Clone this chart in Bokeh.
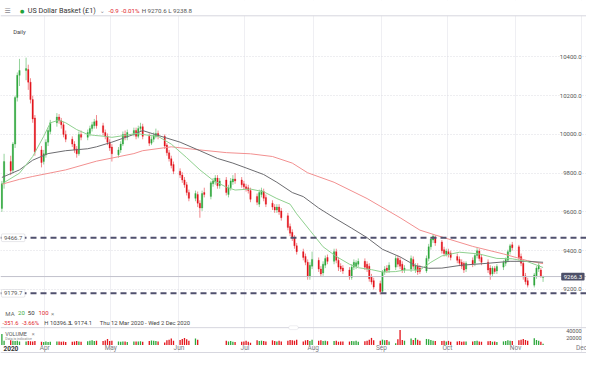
import pandas as pd
from bokeh.plotting import figure
from bokeh.models import (ColumnDataSource, Range1d, Span, Label, LabelSet, Grid,
                          FixedTicker, BoxAnnotation)
from bokeh.core.properties import value
from bokeh.embed import file_html
from bokeh.resources import INLINE

# ---------------- data ----------------
instrument = "US Dollar Basket (£1)"
timeframe = "Daily"
first_day = "2020-03-12"
last_day = "2020-11-13"
range_text = "Thu 12 Mar 2020 - Wed 2 Dec 2020"

opens = [9617.9, 9745, 9860, 9815, 9950, 10190, 10305, 10330, 10335, 10270,
         10180, 10085, 9920, 9860, 9895, 9960, 10015, 10060, 10090, 10070,
         10050, 10000, 9975, 9950, 9925, 9900, 10000, 9985, 10005, 10030,
         10045, 10070, 10045, 10010, 9990, 9960, 9935, 9895, 9920, 9950,
         10000, 9985, 10005, 10020, 9990, 10030, 10040, 9990, 9955, 9975,
         9990, 10005, 9990, 9945, 9905, 9875, 9845, 9810, 9790, 9765,
         9740, 9700, 9670, 9690, 9645, 9620, 9700, 9680, 9745, 9755,
         9775, 9735, 9765, 9690, 9725, 9755, 9770, 9765, 9745, 9730,
         9725, 9710, 9680, 9640, 9690, 9705, 9675, 9645, 9625, 9610,
         9625, 9605, 9580, 9525, 9495, 9465, 9425, 9395, 9370, 9340,
         9265, 9320, 9350, 9305, 9285, 9325, 9365, 9345, 9395, 9350,
         9320, 9310, 9300, 9262, 9315, 9318, 9330, 9345, 9330, 9320,
         9265, 9245, 9230, 9190, 9290, 9310, 9300, 9315, 9360, 9350,
         9330, 9300, 9305, 9355, 9300, 9320, 9310, 9295, 9360, 9420,
         9455, 9470, 9445, 9405, 9380, 9395, 9388, 9370, 9355, 9340,
         9335, 9305, 9350, 9335, 9375, 9398, 9365, 9340, 9310, 9280,
         9308, 9295, 9315, 9335, 9350, 9395, 9430, 9420, 9370, 9335,
         9270, 9245, 9222, 9270, 9305, 9300, 9262]
highs = [9760, 9900, 9890, 9960, 10200, 10320, 10390, 10396.3, 10360, 10290,
         10200, 10100, 9940, 9920, 9975, 10035, 10075, 10110, 10105, 10085,
         10065, 10020, 9990, 9965, 9940, 10015, 10020, 10025, 10045, 10065,
         10080, 10100, 10060, 10025, 10005, 9975, 9950, 9935, 9965, 10015,
         10020, 10025, 10035, 10035, 10045, 10060, 10055, 10005, 9990, 10010,
         10030, 10020, 10000, 9955, 9920, 9890, 9860, 9825, 9805, 9780,
         9755, 9715, 9710, 9705, 9660, 9710, 9725, 9760, 9775, 9790,
         9790, 9775, 9780, 9740, 9775, 9790, 9800, 9780, 9760, 9745,
         9740, 9725, 9695, 9715, 9725, 9720, 9690, 9660, 9640, 9640,
         9640, 9620, 9595, 9540, 9510, 9480, 9440, 9410, 9385, 9355,
         9340, 9395, 9365, 9320, 9345, 9375, 9380, 9410, 9410, 9365,
         9335, 9325, 9315, 9330, 9355, 9350, 9360, 9360, 9345, 9335,
         9280, 9260, 9245, 9300, 9320, 9325, 9340, 9375, 9375, 9365,
         9345, 9325, 9375, 9370, 9335, 9335, 9325, 9375, 9435, 9470,
         9486, 9480, 9455, 9420, 9410, 9410, 9400, 9385, 9370, 9355,
         9345, 9345, 9365, 9385, 9415, 9410, 9380, 9355, 9325, 9320,
         9320, 9330, 9350, 9365, 9405, 9435, 9445, 9430, 9385, 9350,
         9285, 9260, 9285, 9320, 9340, 9310, 9270.6]
lows = [9600, 9720, 9790, 9800, 9930, 10170, 10250, 10280, 10230, 10160,
        10060, 9890, 9830, 9845, 9880, 9940, 10000, 10040, 10055, 10030,
        9985, 9960, 9935, 9905, 9880, 9890, 9970, 9970, 9990, 10015,
        10030, 10030, 9995, 9975, 9945, 9915, 9860, 9880, 9905, 9940,
        9970, 9970, 9990, 9975, 9980, 10015, 9975, 9940, 9945, 9960,
        9980, 9975, 9925, 9890, 9860, 9825, 9795, 9775, 9750, 9725,
        9685, 9655, 9655, 9625, 9570, 9605, 9675, 9665, 9730, 9740,
        9720, 9720, 9685, 9675, 9710, 9740, 9745, 9725, 9715, 9705,
        9695, 9650, 9635, 9625, 9675, 9655, 9625, 9610, 9595, 9595,
        9585, 9555, 9505, 9475, 9450, 9410, 9380, 9350, 9325, 9250,
        9250, 9305, 9290, 9265, 9270, 9310, 9330, 9330, 9335, 9295,
        9290, 9280, 9250, 9250, 9300, 9305, 9315, 9300, 9290, 9240,
        9225, 9200, 9174.1, 9180, 9275, 9285, 9285, 9300, 9315, 9305,
        9285, 9285, 9290, 9305, 9285, 9275, 9280, 9285, 9345, 9405,
        9440, 9425, 9385, 9370, 9370, 9365, 9350, 9335, 9320, 9305,
        9285, 9290, 9315, 9320, 9360, 9345, 9325, 9285, 9250, 9265,
        9280, 9280, 9300, 9320, 9340, 9380, 9400, 9350, 9320, 9250,
        9225, 9210, 9210, 9255, 9290, 9260, 9238.8]
closes = [9745, 9860, 9812, 9950, 10190, 10305, 10330, 10340, 10270, 10180,
          10080, 9910, 9855, 9900, 9960, 10020, 10060, 10090, 10070, 10050,
          10000, 9975, 9950, 9920, 9900, 10000, 9985, 10010, 10030, 10050,
          10065, 10045, 10010, 9990, 9960, 9930, 9900, 9920, 9950, 10000,
          9985, 10010, 10020, 9990, 10030, 10040, 9990, 9955, 9975, 9995,
          10005, 9990, 9940, 9905, 9875, 9840, 9810, 9790, 9765, 9740,
          9700, 9670, 9695, 9645, 9620, 9695, 9690, 9750, 9760, 9775,
          9735, 9760, 9700, 9725, 9760, 9770, 9760, 9740, 9730, 9720,
          9710, 9665, 9650, 9700, 9710, 9670, 9640, 9625, 9610, 9625,
          9600, 9570, 9520, 9490, 9465, 9425, 9395, 9365, 9340, 9265,
          9325, 9355, 9305, 9280, 9330, 9360, 9345, 9395, 9350, 9315,
          9305, 9295, 9265, 9315, 9340, 9338, 9345, 9315, 9305, 9255,
          9238, 9212, 9188, 9290, 9305, 9298, 9325, 9360, 9330, 9320,
          9300, 9310, 9360, 9320, 9322, 9290, 9292, 9360, 9420, 9460,
          9475, 9440, 9400, 9385, 9398, 9380, 9365, 9350, 9335, 9320,
          9300, 9335, 9330, 9375, 9400, 9360, 9340, 9300, 9278, 9310,
          9292, 9318, 9340, 9355, 9395, 9425, 9415, 9365, 9335, 9265,
          9240, 9222, 9275, 9310, 9325, 9267.2, 9266.3]
volumes = [31000, 12000,
           13000, 12000, 11000, 12000, 10000,
           10000, 11000, 10500, 9500, 11000,
           9000, 8000, 9500, 8500, 9000,
           9500, 10000, 9000, 9500, 8500,
           9000, 10000, 11000, 9500, 9000,
           10500, 12000, 13500, 11000, 12000,
           11000, 12500, 17000, 11000, 12000,
           10000, 9000, 10000, 9500, 8500,
           9500, 10000, 9500, 10500, 9000,
           11000, 12500, 12000, 11000, 10000,
           7000, 13000, 15000, 18000, 12000,
           14000, 17000, 20000, 16000, 12000,
           18000, 15000, 0, 0, 0,
           0, 0, 0, 0, 0,
           12000, 10000, 11000, 9000, 8000,
           9000, 10000, 12000, 9000, 6000,
           13000, 11000, 12000, 11000, 10000,
           13000, 11000, 10000, 12000, 10000,
           12000, 14000, 13000, 12000, 15000,
           10000, 13000, 14000, 11000, 15000,
           12000, 13000, 11000, 12000, 10500,
           11000, 12000, 9000, 10000, 9500,
           9500, 11000, 10500, 12000, 9000,
           10500, 12000, 15000, 20000, 13000,
           12000, 15000, 13000, 14000, 10000,
           5000, 16000, 43000, 14000, 12000,
           18000, 14000, 20000, 15000, 12000,
           17000, 16000, 14000, 12000, 11000,
           11000, 12000, 10000, 11500, 9000,
           10000, 11000, 9000, 10000, 9500,
           9500, 11000, 12000, 10000, 9000,
           10500, 11000, 9000, 9500, 8500,
           10000, 11000, 13000, 12000, 11000,
           13000, 15000, 17000, 14000, 12000,
           19000, 14000, 12000, 9000, 3000]

ma20_idx = [0, 6, 10, 13, 16, 18, 21, 24, 27, 30, 33, 36, 40, 43, 47, 51, 55, 60, 64, 68,
            72, 76, 81, 85, 89, 93, 96, 100, 104, 108, 112, 116, 120, 123, 127, 131, 136,
            139, 142, 148, 155, 161, 166, 171, 176]
ma20_val = [9745, 9800, 9886, 9990, 10060, 10074, 10060, 10025, 10000, 9995, 9990, 9985,
            9995, 10005, 9995, 9990, 9950, 9880, 9817, 9763, 9728, 9713, 9718, 9704, 9669,
            9640, 9590, 9505, 9420, 9370, 9330, 9312, 9302, 9290, 9292, 9300, 9300, 9340,
            9373, 9392, 9383, 9360, 9358, 9343, 9313]
ma50_idx = [0, 6, 10, 15, 21, 27, 31, 36, 42, 46, 51, 57, 64, 70, 75, 79, 85, 89, 94, 97,
            102, 107, 113, 118, 123, 129, 134, 138, 142, 149, 157, 165, 171, 176]
ma50_val = [9778, 9817, 9867, 9901, 9916, 9926, 9936, 9960, 10000, 10020, 9995, 9960, 9916,
            9876, 9852, 9827, 9793, 9753, 9700, 9679, 9620, 9570, 9516, 9467, 9407, 9368,
            9323, 9309, 9310, 9325, 9335, 9345, 9345, 9340]
ma100_idx = [0, 6, 10, 21, 31, 42, 46, 55, 64, 72, 81, 87, 94, 99, 107, 118, 129, 136, 141,
             152, 162, 171, 176]
ma100_val = [9743, 9768, 9783, 9817, 9862, 9901, 9916, 9936, 9920, 9906, 9900, 9886, 9852,
             9802, 9753, 9669, 9570, 9506, 9481, 9422, 9383, 9348, 9333]

level_lines = [9466.7, 9179.7]
price_ticks = [9200, 9400, 9600, 9800, 10000, 10200, 10400]
price_tick_labels = ["9200.0", "9400.0", "9600.0", "9800.0", "10000.0", "10200.0", "10400.0"]
volume_ticks = [20000, 40000]
volume_tick_labels = ["20000", "40000"]
month_starts = ["2020-04-01", "2020-05-01", "2020-06-01", "2020-07-01", "2020-08-01",
                "2020-09-01", "2020-10-01", "2020-11-01", "2020-12-01"]
month_labels = ["Apr", "May", "Jun", "Jul", "Aug", "Sep", "Oct", "Nov", "Dec"]
year_label = "2020"
ma_periods = ["20", "50", "100"]

# ---------------- layout helpers ----------------
W, H = 586, 353
REF_W, REF_H = 602, 369
DAY_PX = 2.26
ORIGIN = pd.Timestamp("2020-04-01") - pd.Timedelta(days=45.5 / DAY_PX)
PX_PER_200 = 40.5
VPP = 20000 / 7.3
DAY_MS = 86400000


def X(px):
    return (ORIGIN + pd.Timedelta(days=px / DAY_PX)).value / 1e6


def Y(py):
    return 9200 + (302 - py) * 200 / PX_PER_200


def HP(px):
    return px * 200 / PX_PER_200


GREEN = "#2ea83c"
RED = "#e3161d"
MA20_C = "#8fd08f"
MA50_C = "#6c6c70"
MA100_C = "#f29090"
FONT = "Roboto"

dates = pd.bdate_range(first_day, last_day) + pd.Timedelta(hours=12)
assert len(dates) == len(opens) == len(highs) == len(lows) == len(closes) == len(volumes)

df = pd.DataFrame(dict(date=dates, open=opens, high=highs, low=lows, close=closes,
                       volume=volumes))
df["up"] = df["close"] >= df["open"]
src_up = ColumnDataSource(df[df["up"]])
src_dn = ColumnDataSource(df[~df["up"]])
vol_up = ColumnDataSource(df[df["up"] & (df["volume"] > 0)])
vol_dn = ColumnDataSource(df[~df["up"] & (df["volume"] > 0)])

p = figure(width=W, height=H, x_axis_type="datetime", x_axis_location=None,
           y_axis_location=None, x_range=Range1d(X(0), X(REF_W)),
           y_range=Range1d(Y(REF_H), Y(0)), min_border=0, toolbar_location=None,
           tools="", output_backend="svg")
p.extra_y_ranges = {"vol": Range1d(-(REF_H - 360) * VPP, 360 * VPP)}
p.outline_line_color = None
p.background_fill_color = "white"
p.border_fill_color = "white"
p.grid.visible = False

month_ms = [pd.Timestamp(m).value / 1e6 for m in month_starts]
p.add_layout(Grid(dimension=0, ticker=FixedTicker(ticks=month_ms),
                  grid_line_color="#efeff3", grid_line_width=1))
p.add_layout(Grid(dimension=1, ticker=FixedTicker(ticks=price_ticks),
                  grid_line_color="#dcdce2", grid_line_dash="1 2", grid_line_width=1))

# volume
p.vbar(x="date", width=0.6 * DAY_MS, top="volume", bottom=0, source=vol_up,
       y_range_name="vol", fill_color=GREEN, line_color=None)
p.vbar(x="date", width=0.6 * DAY_MS, top="volume", bottom=0, source=vol_dn,
       y_range_name="vol", fill_color=RED, line_color=None)

# candles
p.segment(x0="date", y0="high", x1="date", y1="low", source=src_up, line_color=GREEN,
          line_alpha=0.5, line_width=1)
p.segment(x0="date", y0="high", x1="date", y1="low", source=src_dn, line_color=RED,
          line_alpha=0.5, line_width=1)
p.vbar(x="date", width=0.62 * DAY_MS, top="close", bottom="open", source=src_up,
       fill_color=GREEN, line_color=GREEN, line_width=0.3)
p.vbar(x="date", width=0.62 * DAY_MS, top="open", bottom="close", source=src_dn,
       fill_color=RED, line_color=RED, line_width=0.3)

# moving averages
for idx, vals, col in ((ma100_idx, ma100_val, MA100_C), (ma50_idx, ma50_val, MA50_C),
                       (ma20_idx, ma20_val, MA20_C)):
    p.line(x=[dates[i] for i in idx], y=vals, line_color=col, line_width=1)

# header mask and separators
p.add_layout(BoxAnnotation(bottom=Y(16), top=Y(0), fill_color="white", fill_alpha=1,
                           line_color=None))
for py in (16, 342, 368):
    p.add_layout(Span(location=Y(py), dimension="width", line_color="#d6d6de",
                      line_width=1))
p.add_layout(BoxAnnotation(left=X(296), right=X(306), bottom=Y(344), top=Y(340),
                           fill_color="white", fill_alpha=1, line_color="#c8c8d0",
                           line_width=1, border_radius=2))

# current price line and level lines
p.add_layout(Span(location=closes[-1], dimension="width", line_color="#c2c2cc",
                  line_width=1))
for lv in level_lines:
    p.add_layout(Span(location=lv, dimension="width", line_color="#50506e",
                      line_width=2, line_dash="6 4"))


def txt(px, py, s, color="#555555", size=6.5, align="left", style="normal", font=FONT):
    p.add_layout(Label(x=X(px), y=Y(py), text=s, text_color=color,
                       text_font_size=f"{size}px", text_align=align,
                       text_baseline="middle", text_font=font, text_font_style=style))


# level boxes on the left
for lv in level_lines:
    p.add_layout(BoxAnnotation(left=X(1), right=X(25), bottom=lv - HP(4), top=lv + HP(4),
                               fill_color="white", fill_alpha=1, line_color="#b4b4bc",
                               line_width=1, border_radius=1))
    p.add_layout(Label(x=X(13), y=lv, text=f"{lv:.1f}", text_color="#555555",
                       text_font_size="6px", text_align="center", text_baseline="middle",
                       text_font=FONT))

# price axis labels (right, inside)
price_src = ColumnDataSource(dict(y=price_ticks, text=price_tick_labels))
p.add_layout(LabelSet(x=X(597), y="y", text="text", source=price_src, text_align="right",
                      text_baseline="middle", text_font=value(FONT),
                      text_font_size=value("6px"), text_color="#555555",
                      background_fill_color="white"))
vol_src = ColumnDataSource(dict(y=volume_ticks, text=volume_tick_labels))
p.add_layout(LabelSet(x=X(597), y="y", text="text", source=vol_src, y_range_name="vol",
                      text_align="right", text_baseline="middle", text_font=value(FONT),
                      text_font_size=value("5.5px"), text_color="#555555"))

# current price tag
p.add_layout(BoxAnnotation(left=X(576), right=X(600), bottom=closes[-1] - HP(4),
                           top=closes[-1] + HP(4), fill_color="#4d5068", fill_alpha=1,
                           line_color=None, border_radius=1))
p.add_layout(Label(x=X(588), y=closes[-1], text=f"{closes[-1]:.1f}", text_color="white",
                   text_font_size="6px", text_align="center", text_baseline="middle",
                   text_font=FONT))

# month labels
mon_src = ColumnDataSource(dict(x=month_ms, text=month_labels))
p.add_layout(LabelSet(x="x", y=Y(363.5), text="text", source=mon_src, text_align="center",
                      text_baseline="middle", text_font=value(FONT),
                      text_font_size=value("6.5px"), text_color="#7a7a80"))
txt(3, 363.5, year_label, color="#333333", size=6.5, style="bold")

# header
last_chg = closes[-1] - closes[-2]
last_pct = last_chg / closes[-2] * 100
txt(4, 10.5, "☰", color="#8a8a92", size=7, font="DejaVu Sans")
txt(20, 10.5, "●", color="#1fa33a", size=5, font="DejaVu Sans")
txt(28, 10.5, instrument, color="#333333", size=7.2)
txt(102, 10.5, "⌄", color="#8a8a92", size=6, font="DejaVu Sans")
txt(111, 10.5, f"{last_chg:.1f}", color="#e0262c", size=6.2)
txt(124, 10.5, f"{last_pct:.2f}%", color="#e0262c", size=6.2)
txt(145, 10.5, f"H {highs[-1]:.1f} L {lows[-1]:.1f}", color="#555555", size=6.2)
txt(13, 33, timeframe, color="#444444", size=5.8)

# MA legend and range statistics
txt(5, 327, "MA", color="#666666", size=6)
txt(18, 327, ma_periods[0], color="#3caa3c", size=6)
txt(28, 327, ma_periods[1], color="#333333", size=6)
txt(39, 327, ma_periods[2], color="#e0262c", size=6)
txt(52, 327, "×", color="#888888", size=6)
rng_chg = closes[-1] - opens[0]
rng_pct = rng_chg / opens[0] * 100
txt(2, 337, f"{rng_chg:.1f}", color="#e0262c", size=5.8)
txt(22, 337, f"{rng_pct:.2f}%", color="#e0262c", size=5.8)
txt(45, 337, f"H {max(highs):.1f}", color="#444444", size=5.8)
txt(71, 337, f"L {min(lows):.1f}", color="#444444", size=5.8)
txt(102, 337, range_text, color="#444444", size=5.8)

# volume legend
txt(5, 349, "VOLUME", color="#555555", size=5.5)
txt(32, 349, "×", color="#888888", size=5.5)
txt(5, 354, "Data is indicative", color="#888888", size=3.5)

open("out.html", "w").write(file_html(p, INLINE))
